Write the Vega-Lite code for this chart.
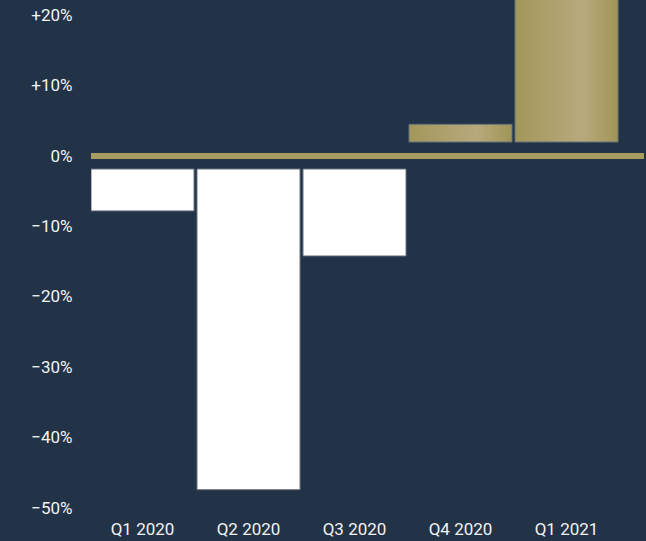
{
  "$schema": "https://vega.github.io/schema/vega-lite/v6.json",
  "width": 553,
  "height": 508,
  "autosize": {"type": "none"},
  "padding": {"left": 91, "top": 0, "right": 2, "bottom": 33},
  "background": "#233347",
  "config": {"view": {"stroke": null}, "font": "Roboto"},
  "data": {"values": [
    {"quarter": "Q1 2020", "change": -7.8},
    {"quarter": "Q2 2020", "change": -47.4},
    {"quarter": "Q3 2020", "change": -14.2},
    {"quarter": "Q4 2020", "change": 4.5},
    {"quarter": "Q1 2021", "change": 30}
  ]},
  "layer": [
    {
      "transform": [{"filter": "datum.change < 0"}],
      "mark": {"type": "bar", "fill": "#ffffff", "stroke": "#66707e", "strokeWidth": 1, "y2Offset": 13, "clip": true},
      "encoding": {
        "x": {"field": "quarter", "type": "nominal", "sort": ["Q1 2020", "Q2 2020", "Q3 2020", "Q4 2020", "Q1 2021"],
          "scale": {"domain": ["Q1 2020", "Q2 2020", "Q3 2020", "Q4 2020", "Q1 2021"], "paddingInner": 0.028, "paddingOuter": 0.1225, "align": 0},
          "axis": {"title": null, "domain": false, "ticks": false, "tickSize": 0, "labelPadding": 13, "labelFontSize": 17, "labelColor": "#f2f2f2", "labelAngle": 0,
            "encode": {"labels": {"update": {"dx": {"signal": "datum.value === 'Q1 2021' ? 12 : 0"}}}}}},
        "y": {"field": "change", "type": "quantitative",
          "scale": {"domain": [-50, 22.16], "nice": false},
          "axis": {"title": null, "domain": false, "ticks": false, "tickSize": 0, "grid": false, "labelPadding": 19, "labelFontSize": 17, "labelColor": "#f2f2f2",
            "values": [-50, -40, -30, -20, -10, 0, 10, 20],
            "labelExpr": "datum.value > 0 ? '+' + datum.value + '%' : (datum.value < 0 ? '\u2212' + abs(datum.value) + '%' : '0%')"}},
        "y2": {"datum": 0}
      }
    },
    {
      "transform": [{"filter": "datum.change >= 0"}],
      "mark": {"type": "bar", "stroke": "#66707e", "strokeWidth": 1, "y2Offset": -14, "clip": true,
        "fill": {"gradient": "linear", "x1": 0, "x2": 1, "y1": 0, "y2": 0,
          "stops": [{"offset": 0, "color": "#a2975a"}, {"offset": 0.65, "color": "#b6aa7d"}, {"offset": 1, "color": "#a09556"}]}},
      "encoding": {
        "x": {"field": "quarter", "type": "nominal"},
        "y": {"field": "change", "type": "quantitative"},
        "y2": {"datum": 0}
      }
    },
    {
      "data": {"values": [{"zero": 0}]},
      "mark": {"type": "rule", "color": "#a89c60", "strokeWidth": 6},
      "encoding": {"y": {"field": "zero", "type": "quantitative"}}
    }
  ]
}
